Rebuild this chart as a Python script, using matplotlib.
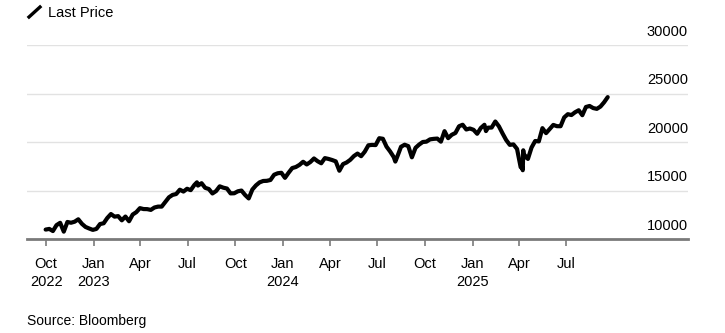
import matplotlib.pyplot as plt
import pandas as pd
from matplotlib.lines import Line2D

plt.rcParams['font.family'] = ['Liberation Sans', 'DejaVu Sans']

# Weekly closes (Fridays), Sep 30 2022 -> Sep 19 2025
weekly_close = [
    # 2022
    10971, 11039, 10821, 11430, 11669, 10758, 11755, 11676, 11785, 12031,
    11565, 11242, 11083, 10940,
    # 2023
    11040, 11541, 11623, 12166, 12573, 12305, 12359, 11926, 12315, 11830,
    12520, 12767, 13181, 13087, 13079, 13000, 13246, 13340, 13340, 13819,
    14298, 14546, 14637, 15083, 14891, 15179, 15035, 15565, 15507, 15751,
    15274, 15153, 14695, 14942, 15431, 15290, 15202, 14701, 14715, 14916,
    14995, 14540, 14181, 15099, 15529, 15840, 15982, 15998, 16085, 16623,
    16777, 16826,
    # 2024
    16305, 16833, 17314, 17421, 17642, 17963, 17686, 17937, 18302, 18018,
    17808, 18339, 18255, 18143, 18003, 17038, 17718, 17890, 18161, 18547,
    18808, 18537, 19000, 19660, 19700, 19683, 20392, 20332, 19523, 19023,
    18440, 18514, 19508, 19720, 19575, 18421, 19398, 19736, 20000, 20035,
    20272, 20324, 20352, 20034, 21117, 20395, 20744, 20930, 21622, 21780,
    21289, 21393,
    # 2025
    21257, 20847, 21441, 21774, 21478, 21491, 22114, 21614, 20884, 20202,
    19704, 19754, 19282, 17398, 18690, 18258, 19432, 20103, 20062, 21427,
    20915, 21340, 21761, 21631, 21626, 22534, 22867, 22780, 23066, 23272,
    22764, 23611, 23713, 23498, 23416, 23653, 24093, 24627,
]

# a few daily closes around the sharp moves
daily_dates = ['2023-07-19', '2024-08-05', '2025-01-27', '2025-04-07',
               '2025-04-08', '2025-04-09', '2025-04-10']
daily_close = [15841, 17983, 21127, 17430, 17090, 19145, 18343]

tick_dates = ['2022-10-01', '2023-01-01', '2023-04-01', '2023-07-01',
              '2023-10-01', '2024-01-01', '2024-04-01', '2024-07-01',
              '2024-10-01', '2025-01-01', '2025-04-01', '2025-07-01']
tick_labels = ['Oct\n2022', 'Jan\n2023', 'Apr', 'Jul', 'Oct', 'Jan\n2024',
               'Apr', 'Jul', 'Oct', 'Jan\n2025', 'Apr', 'Jul']
y_levels = [10000, 15000, 20000, 25000, 30000]

weekly = pd.Series(weekly_close,
                   index=pd.date_range('2022-09-30', periods=len(weekly_close), freq='W-FRI'))
daily = pd.Series(daily_close, index=pd.to_datetime(daily_dates))
price = pd.concat([weekly, daily]).sort_index()

W, H = 725, 333
fig = plt.figure(figsize=(W / 100, H / 100), dpi=100)
ax = fig.add_axes([27 / W, 94 / H, 661 / W, 194 / H])

for v in y_levels[1:]:
    ax.axhline(v, color='#e2e2e2', lw=1, zorder=0)
ax.axhline(y_levels[0], color='#7a7a7a', lw=2, zorder=1, clip_on=False)

ax.plot(price.index, price.values, color='black', lw=3,
        solid_joinstyle='round', solid_capstyle='round', zorder=3)

ax.set_ylim(10000, 30000)
ax.set_xlim(pd.Timestamp('2022-08-25'), pd.Timestamp('2026-02-21'))
for sp in ax.spines.values():
    sp.set_visible(False)

ax.set_yticks([])
for v in y_levels:
    ax.annotate(str(v), xy=(1, v), xycoords=('axes fraction', 'data'),
                xytext=(0, 6.5), textcoords='offset points',
                ha='right', va='baseline', fontsize=10.5)

ax.set_xticks(pd.to_datetime(tick_dates))
ax.set_xticklabels(tick_labels)
ax.tick_params(axis='x', length=5, width=1.2, color='#7a7a7a', pad=8,
               labelsize=10.5)
for lbl in ax.get_xticklabels():
    lbl.set_linespacing(1.4)

# legend swatch + title
fig.add_artist(Line2D([29 / W, 40 / W], [1 - 17 / H, 1 - 7 / H],
                      color='black', lw=2.4, transform=fig.transFigure))
fig.text(48 / W, 1 - 13 / H, 'Last Price', va='center', ha='left', fontsize=10.5)
fig.text(27 / W, 1 - 320.5 / H, 'Source: Bloomberg', va='center', ha='left', fontsize=10)

fig.savefig('out.png', dpi=100)
